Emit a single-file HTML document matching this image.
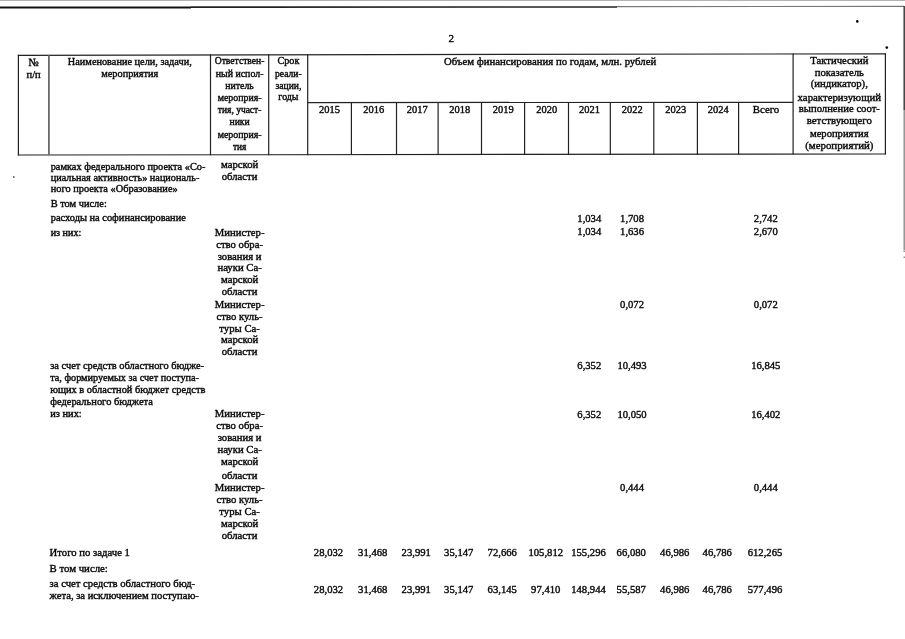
<!DOCTYPE html>
<html lang="ru"><head><meta charset="utf-8"><title>Таблица</title>
<style>
html,body{margin:0;padding:0;background:#fff;}
#pg{position:relative;width:905px;height:639px;overflow:hidden;background:#fff;filter:grayscale(1);}
.t{position:absolute;white-space:nowrap;font-family:"Liberation Serif", "Noto Serif CJK SC", serif;line-height:12px;color:#000;-webkit-text-stroke:0.4px #111;}
.c{transform:translateX(-50%);}
.r{position:absolute;}
</style></head><body><div id="pg">
<svg class="r" style="left:0;top:0" width="905" height="639" viewBox="0 0 905 639"><line x1="17.80" y1="55.30" x2="886.00" y2="53.80" stroke="#222" stroke-width="1.2"/><line x1="17.80" y1="155.00" x2="886.00" y2="154.00" stroke="#222" stroke-width="1.2"/><line x1="307.70" y1="102.60" x2="793.10" y2="102.30" stroke="#222" stroke-width="1.2"/><line x1="18.40" y1="54.80" x2="18.40" y2="155.50" stroke="#222" stroke-width="1.2"/><line x1="210.50" y1="54.47" x2="210.50" y2="155.28" stroke="#222" stroke-width="1.2"/><line x1="268.70" y1="54.37" x2="268.70" y2="155.21" stroke="#222" stroke-width="1.2"/><line x1="307.70" y1="54.30" x2="307.70" y2="155.17" stroke="#222" stroke-width="1.2"/><line x1="793.10" y1="53.46" x2="793.10" y2="154.61" stroke="#222" stroke-width="1.2"/><line x1="885.40" y1="53.30" x2="885.40" y2="154.50" stroke="#222" stroke-width="1.2"/><line x1="48.90" y1="55.25" x2="48.90" y2="154.96" stroke="#6a6a6a" stroke-width="1.8"/><line x1="351.40" y1="102.57" x2="351.40" y2="155.12" stroke="#222" stroke-width="1.2"/><line x1="396.50" y1="102.55" x2="396.50" y2="155.06" stroke="#222" stroke-width="1.2"/><line x1="438.10" y1="102.52" x2="438.10" y2="155.02" stroke="#222" stroke-width="1.2"/><line x1="481.50" y1="102.49" x2="481.50" y2="154.97" stroke="#222" stroke-width="1.2"/><line x1="524.60" y1="102.47" x2="524.60" y2="154.92" stroke="#222" stroke-width="1.2"/><line x1="568.50" y1="102.44" x2="568.50" y2="154.87" stroke="#222" stroke-width="1.2"/><line x1="610.30" y1="102.41" x2="610.30" y2="154.82" stroke="#222" stroke-width="1.2"/><line x1="653.80" y1="102.39" x2="653.80" y2="154.77" stroke="#222" stroke-width="1.2"/><line x1="697.40" y1="102.36" x2="697.40" y2="154.72" stroke="#222" stroke-width="1.2"/><line x1="738.60" y1="102.33" x2="738.60" y2="154.67" stroke="#222" stroke-width="1.2"/><line x1="0.00" y1="0.40" x2="905.00" y2="0.40" stroke="#aaa" stroke-width="1.0"/><line x1="0.00" y1="7.50" x2="191.00" y2="7.50" stroke="#111" stroke-width="2.1"/><line x1="191.00" y1="7.10" x2="617.00" y2="7.00" stroke="#222" stroke-width="1.6"/><line x1="617.00" y1="6.60" x2="904.00" y2="6.40" stroke="#777" stroke-width="1.2"/><line x1="904.20" y1="6.00" x2="904.20" y2="110.00" stroke="#333" stroke-width="1.4"/><line x1="904.20" y1="110.00" x2="904.20" y2="250.00" stroke="#858585" stroke-width="1.3"/><line x1="904.20" y1="250.50" x2="904.20" y2="252.00" stroke="#888" stroke-width="1.4"/><line x1="904.20" y1="256.50" x2="904.20" y2="258.00" stroke="#888" stroke-width="1.4"/><circle cx="857.3" cy="21.4" r="1.3" fill="#000"/><circle cx="886.8" cy="47.6" r="1.3" fill="#000"/><circle cx="13.8" cy="177" r="0.8" fill="#000"/></svg>
<div class="t c" style="left:451.30px;top:32.00px;font-size:11px">2</div>
<div class="t c" style="left:33.60px;top:56.00px;font-size:11px">№</div>
<div class="t c" style="left:33.60px;top:69.00px;font-size:10.5px">п/п</div>
<div class="t c" style="left:129.80px;top:56.00px;font-size:10.3px">Наименование цели, задачи,</div>
<div class="t c" style="left:129.80px;top:68.00px;font-size:10.3px">мероприятия</div>
<div class="t c" style="left:239.60px;top:55.00px;font-size:9.6px">Ответствен-</div>
<div class="t c" style="left:239.60px;top:68.00px;font-size:9.9px">ный испол-</div>
<div class="t c" style="left:239.60px;top:80.00px;font-size:9.8px">нитель</div>
<div class="t c" style="left:239.60px;top:92.00px;font-size:9.9px">мероприя-</div>
<div class="t c" style="left:239.60px;top:104.00px;font-size:9.5px">тия, участ-</div>
<div class="t c" style="left:239.60px;top:116.00px;font-size:9.7px">ники</div>
<div class="t c" style="left:239.60px;top:129.00px;font-size:9.9px">мероприя-</div>
<div class="t c" style="left:239.60px;top:141.00px;font-size:9.3px">тия</div>
<div class="t c" style="left:288.40px;top:55.00px;font-size:10.2px">Срок</div>
<div class="t c" style="left:288.40px;top:68.00px;font-size:9.6px">реали-</div>
<div class="t c" style="left:288.40px;top:80.00px;font-size:9.6px">зации,</div>
<div class="t c" style="left:288.40px;top:91.00px;font-size:9.9px">годы</div>
<div class="t" style="left:444.00px;top:55.00px;font-size:10.75px">Объем финансирования по годам, млн. рублей</div>
<div class="t c" style="left:329.50px;top:104.00px;font-size:10.45px">2015</div>
<div class="t c" style="left:373.75px;top:104.00px;font-size:10.45px">2016</div>
<div class="t c" style="left:417.25px;top:104.00px;font-size:10.45px">2017</div>
<div class="t c" style="left:459.75px;top:104.00px;font-size:10.45px">2018</div>
<div class="t c" style="left:503.25px;top:104.00px;font-size:10.45px">2019</div>
<div class="t c" style="left:546.75px;top:104.00px;font-size:10.45px">2020</div>
<div class="t c" style="left:589.50px;top:104.00px;font-size:10.45px">2021</div>
<div class="t c" style="left:632.25px;top:104.00px;font-size:10.45px">2022</div>
<div class="t c" style="left:675.75px;top:104.00px;font-size:10.45px">2023</div>
<div class="t c" style="left:718.25px;top:104.00px;font-size:10.45px">2024</div>
<div class="t c" style="left:766.00px;top:103.00px;font-size:10.8px">Всего</div>
<div class="t c" style="left:839.30px;top:54.00px;font-size:10.7px">Тактический</div>
<div class="t c" style="left:839.30px;top:66.00px;font-size:10.7px">показатель</div>
<div class="t c" style="left:839.30px;top:77.00px;font-size:10.7px">(индикатор),</div>
<div class="t c" style="left:839.30px;top:91.00px;font-size:10.8px">характеризующий</div>
<div class="t c" style="left:839.30px;top:103.00px;font-size:10.66px">выполнение соот-</div>
<div class="t c" style="left:839.30px;top:114.00px;font-size:10.8px">ветствующего</div>
<div class="t c" style="left:839.30px;top:128.00px;font-size:10.6px">мероприятия</div>
<div class="t c" style="left:839.30px;top:139.00px;font-size:10.85px">(мероприятий)</div>
<div class="t" style="left:50.70px;top:161.00px;font-size:10.35px">рамках федерального проекта «Со-</div>
<div class="t" style="left:50.70px;top:172.00px;font-size:10.26px">циальная активность» националь-</div>
<div class="t" style="left:50.70px;top:183.00px;font-size:10.36px">ного проекта «Образование»</div>
<div class="t" style="left:50.70px;top:198.00px;font-size:10.39px">В том числе:</div>
<div class="t" style="left:50.70px;top:212.00px;font-size:10.4px">расходы на софинансирование</div>
<div class="t" style="left:50.70px;top:227.00px;font-size:10.1px">из них:</div>
<div class="t" style="left:50.20px;top:360.00px;font-size:10.43px">за счет средств областного бюдже-</div>
<div class="t" style="left:50.20px;top:372.00px;font-size:10.23px">та, формируемых за счет поступа-</div>
<div class="t" style="left:50.20px;top:384.00px;font-size:10.41px">ющих в областной бюджет средств</div>
<div class="t" style="left:50.20px;top:396.00px;font-size:10.45px">федерального бюджета</div>
<div class="t" style="left:50.20px;top:408.00px;font-size:10.43px">из них:</div>
<div class="t" style="left:49.60px;top:546.00px;font-size:10.7px">Итого по задаче 1</div>
<div class="t" style="left:49.60px;top:562.00px;font-size:10.78px">В том числе:</div>
<div class="t" style="left:49.60px;top:577.00px;font-size:10.67px">за счет средств областного бюд-</div>
<div class="t" style="left:49.60px;top:590.00px;font-size:10.59px">жета, за исключением поступаю-</div>
<div class="t c" style="left:239.60px;top:158.00px;font-size:10.7px">марской</div>
<div class="t c" style="left:239.60px;top:170.00px;font-size:10.7px">области</div>
<div class="t c" style="left:239.60px;top:226.00px;font-size:10.7px">Министер-</div>
<div class="t c" style="left:239.60px;top:238.00px;font-size:10.7px">ство обра-</div>
<div class="t c" style="left:239.60px;top:250.00px;font-size:10.7px">зования и</div>
<div class="t c" style="left:239.60px;top:261.00px;font-size:10.7px">науки Са-</div>
<div class="t c" style="left:239.60px;top:273.00px;font-size:10.7px">марской</div>
<div class="t c" style="left:239.60px;top:285.00px;font-size:10.7px">области</div>
<div class="t c" style="left:239.60px;top:298.00px;font-size:10.7px">Министер-</div>
<div class="t c" style="left:239.60px;top:310.00px;font-size:10.7px">ство куль-</div>
<div class="t c" style="left:239.60px;top:322.00px;font-size:10.7px">туры Са-</div>
<div class="t c" style="left:239.60px;top:333.00px;font-size:10.7px">марской</div>
<div class="t c" style="left:239.60px;top:345.00px;font-size:10.7px">области</div>
<div class="t c" style="left:239.60px;top:407.00px;font-size:10.7px">Министер-</div>
<div class="t c" style="left:239.60px;top:419.00px;font-size:10.7px">ство обра-</div>
<div class="t c" style="left:239.60px;top:431.00px;font-size:10.7px">зования и</div>
<div class="t c" style="left:239.60px;top:443.00px;font-size:10.7px">науки Са-</div>
<div class="t c" style="left:239.60px;top:455.00px;font-size:10.7px">марской</div>
<div class="t c" style="left:239.60px;top:469.00px;font-size:10.7px">области</div>
<div class="t c" style="left:239.60px;top:481.00px;font-size:10.7px">Министер-</div>
<div class="t c" style="left:239.60px;top:493.00px;font-size:10.7px">ство куль-</div>
<div class="t c" style="left:239.60px;top:505.00px;font-size:10.7px">туры Са-</div>
<div class="t c" style="left:239.60px;top:517.00px;font-size:10.7px">марской</div>
<div class="t c" style="left:239.60px;top:529.00px;font-size:10.7px">области</div>
<div class="t c" style="left:589.30px;top:213.00px;font-size:10.65px">1,034</div>
<div class="t c" style="left:632.05px;top:213.00px;font-size:10.65px">1,708</div>
<div class="t c" style="left:765.80px;top:213.00px;font-size:10.65px">2,742</div>
<div class="t c" style="left:589.30px;top:226.00px;font-size:10.65px">1,034</div>
<div class="t c" style="left:632.05px;top:226.00px;font-size:10.65px">1,636</div>
<div class="t c" style="left:765.80px;top:226.00px;font-size:10.65px">2,670</div>
<div class="t c" style="left:632.05px;top:299.00px;font-size:10.65px">0,072</div>
<div class="t c" style="left:765.80px;top:299.00px;font-size:10.65px">0,072</div>
<div class="t c" style="left:589.30px;top:360.00px;font-size:10.65px">6,352</div>
<div class="t c" style="left:632.05px;top:360.00px;font-size:10.65px">10,493</div>
<div class="t c" style="left:765.80px;top:360.00px;font-size:10.65px">16,845</div>
<div class="t c" style="left:589.30px;top:409.00px;font-size:10.65px">6,352</div>
<div class="t c" style="left:632.05px;top:409.00px;font-size:10.65px">10,050</div>
<div class="t c" style="left:765.80px;top:409.00px;font-size:10.65px">16,402</div>
<div class="t c" style="left:632.05px;top:482.00px;font-size:10.65px">0,444</div>
<div class="t c" style="left:765.80px;top:482.00px;font-size:10.65px">0,444</div>
<div class="t c" style="left:328.50px;top:547.00px;font-size:10.65px">28,032</div>
<div class="t c" style="left:372.75px;top:547.00px;font-size:10.65px">31,468</div>
<div class="t c" style="left:416.25px;top:547.00px;font-size:10.65px">23,991</div>
<div class="t c" style="left:458.75px;top:547.00px;font-size:10.65px">35,147</div>
<div class="t c" style="left:502.25px;top:547.00px;font-size:10.65px">72,666</div>
<div class="t c" style="left:545.75px;top:547.00px;font-size:10.65px">105,812</div>
<div class="t c" style="left:588.50px;top:547.00px;font-size:10.65px">155,296</div>
<div class="t c" style="left:631.25px;top:547.00px;font-size:10.65px">66,080</div>
<div class="t c" style="left:674.75px;top:547.00px;font-size:10.65px">46,986</div>
<div class="t c" style="left:717.25px;top:547.00px;font-size:10.65px">46,786</div>
<div class="t c" style="left:765.00px;top:547.00px;font-size:10.65px">612,265</div>
<div class="t c" style="left:328.50px;top:584.00px;font-size:10.65px">28,032</div>
<div class="t c" style="left:372.75px;top:584.00px;font-size:10.65px">31,468</div>
<div class="t c" style="left:416.25px;top:584.00px;font-size:10.65px">23,991</div>
<div class="t c" style="left:458.75px;top:584.00px;font-size:10.65px">35,147</div>
<div class="t c" style="left:502.25px;top:584.00px;font-size:10.65px">63,145</div>
<div class="t c" style="left:545.75px;top:584.00px;font-size:10.65px">97,410</div>
<div class="t c" style="left:588.50px;top:584.00px;font-size:10.65px">148,944</div>
<div class="t c" style="left:631.25px;top:584.00px;font-size:10.65px">55,587</div>
<div class="t c" style="left:674.75px;top:584.00px;font-size:10.65px">46,986</div>
<div class="t c" style="left:717.25px;top:584.00px;font-size:10.65px">46,786</div>
<div class="t c" style="left:765.00px;top:584.00px;font-size:10.65px">577,496</div>
</div></body></html>
